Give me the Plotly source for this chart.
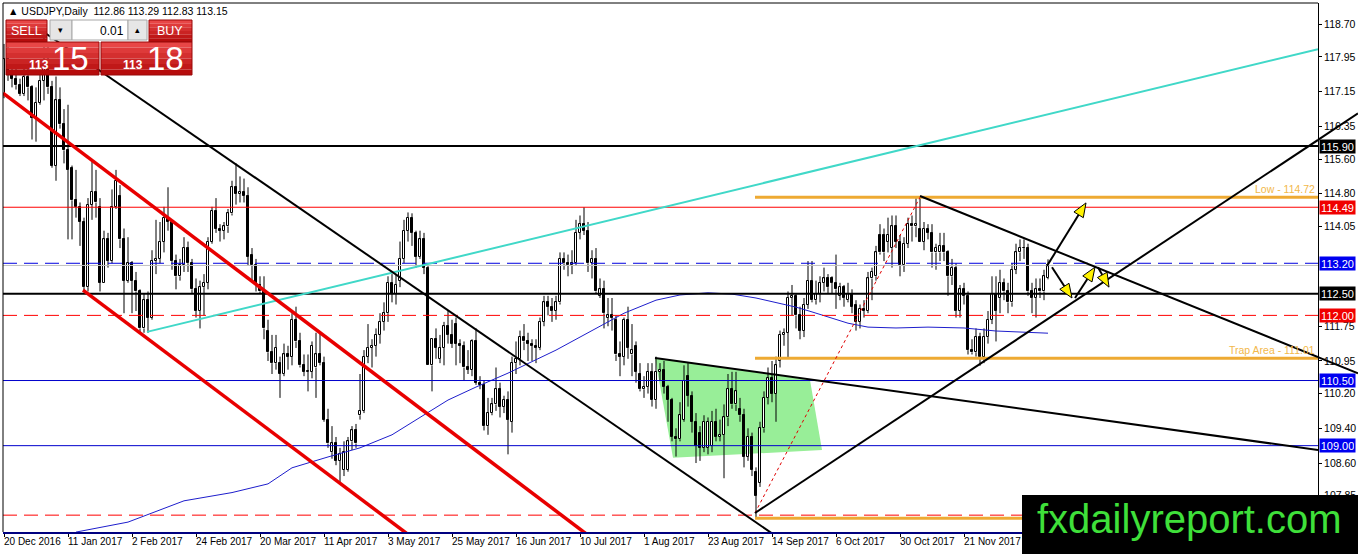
import math
import plotly.graph_objects as go

# USDJPY daily candles, bar 0 = 20 Dec 2016 ... bar 261 = 20 Dec 2017
open_ = [
    117.10, 117.90, 117.55, 117.45, 117.30, 117.10, 117.50, 117.25, 116.55,  # Dec 16
    116.90, 117.40, 117.75, 117.25, 115.45, 116.95, 116.40, 115.80, 115.40, 114.65, 114.50,
    114.15, 112.65, 114.55, 114.85, 114.50, 112.75, 113.75, 113.25, 114.50, 114.75, 113.75,  # Jan
    112.80, 113.20, 112.80, 112.55, 111.70, 112.35, 111.95, 113.25, 113.30, 113.70,
    114.25, 114.15, 113.25, 112.90, 113.15, 113.55, 113.20, 112.60, 112.10, 112.65,  # Feb
    112.75, 113.70, 114.40, 114.00, 113.95, 114.05, 114.35, 114.95, 114.80, 114.85, 114.75, 113.40,
    113.15, 112.70, 112.55, 111.65, 111.15, 110.90, 110.90, 110.65, 111.10, 111.05, 111.90,  # Mar
    111.40, 110.85, 110.70, 110.70, 110.80, 111.10, 110.90, 109.60, 108.85, 109.05,
    108.65, 108.45, 108.45, 109.10, 109.35, 109.70, 109.80, 111.05, 111.25, 111.30,  # Apr
    111.55, 111.85, 112.05, 112.75, 112.50, 112.80, 113.30, 113.95, 114.25, 113.90, 113.35, 113.75,
    113.10, 110.85, 111.45, 111.00, 111.25, 111.75, 111.55, 111.80, 111.35, 111.30, 110.80,  # May
    110.75, 111.40, 110.45, 110.40, 109.45, 109.75, 109.95, 110.30, 109.90, 110.05, 109.55,
    110.90, 111.00, 111.50, 111.40, 111.35, 111.30, 111.25, 111.85, 112.30, 112.20, 112.10,  # Jun
    112.30, 113.30, 113.20, 113.15, 113.20, 113.90, 114.10, 113.95, 113.20, 113.30, 112.45,
    112.60, 111.95, 112.00, 111.90, 111.10, 111.05, 111.90, 111.10, 111.30, 110.65,  # Jul
    110.30, 110.35, 110.70, 110.05, 110.70, 110.75, 110.35, 110.05, 109.20, 109.15, 109.60, 110.60,
    110.15, 109.55, 109.30, 108.95, 108.95, 109.00, 109.55, 109.20, 109.25, 109.65, 110.30,  # Aug
    109.95, 109.85, 109.70, 108.75, 109.20, 108.40, 108.15, 109.40, 110.10, 110.55, 110.20,
    110.95, 111.55, 111.60, 112.40, 112.45, 112.00, 111.65, 112.25, 112.80, 112.35,  # Sep
    112.50, 112.75, 112.85, 112.85, 112.75, 112.45, 112.65, 112.35, 112.50, 112.25, 111.85,
    112.15, 112.10, 112.85, 112.90, 113.85, 113.85, 113.70, 113.55, 114.05, 113.70, 113.15,  # Oct
    113.65, 114.10, 114.05, 114.00, 113.70, 114.00, 113.90, 113.45, 113.45, 113.60, 113.45,
    112.90, 113.10, 112.10, 112.60, 112.45, 111.20, 111.15, 111.50, 111.05, 111.50, 111.90,  # Nov
    112.50, 112.40, 112.75, 112.55, 112.30, 113.05, 113.45, 113.55, 113.55, 112.55, 112.40,
    112.60, 112.55, 112.86,  # Dec
]
high = [
    118.25, 118.20, 117.80, 117.75, 117.45, 117.85, 117.85, 117.30, 117.25,
    117.55, 118.60, 118.20, 117.40, 117.50, 117.25, 116.75, 116.85, 115.45, 115.35, 114.60,
    114.25, 114.70, 115.60, 115.35, 114.70, 113.95, 113.90, 114.90, 115.35, 115.00, 114.00,
    113.80, 113.25, 113.00, 112.60, 112.50, 112.55, 113.50, 114.20, 114.15, 114.50,
    114.95, 114.20, 113.40, 113.30, 113.80, 113.70, 113.30, 112.85, 112.80, 112.95,
    113.80, 114.50, 114.70, 114.10, 114.15, 114.45, 115.10, 115.50, 115.20, 115.15, 114.95, 113.55,
    113.30, 112.90, 112.90, 111.90, 111.55, 111.55, 111.05, 111.35, 111.30, 112.05, 112.20,
    111.60, 111.10, 111.10, 111.40, 111.60, 111.60, 111.05, 109.85, 109.45, 109.20,
    108.95, 109.10, 109.20, 109.45, 109.50, 110.65, 111.20, 111.80, 111.45, 111.70,
    112.05, 112.30, 112.90, 112.95, 112.95, 113.70, 114.20, 114.37, 114.35, 113.95, 113.95, 113.90,
    113.15, 111.45, 111.70, 111.55, 111.85, 112.10, 111.90, 111.95, 111.45, 111.40, 111.20,
    111.45, 111.70, 110.60, 110.50, 110.10, 110.10, 110.80, 110.45, 110.15, 110.25, 111.05,
    111.40, 111.65, 111.80, 111.60, 111.45, 111.45, 111.95, 112.45, 112.45, 112.40, 112.45,
    113.45, 113.45, 113.40, 113.50, 114.20, 114.30, 114.49, 114.15, 113.50, 113.55, 112.85,
    112.80, 112.40, 112.40, 112.00, 111.40, 111.95, 112.20, 111.80, 111.40, 110.90,
    110.60, 110.90, 110.90, 111.05, 110.90, 110.95, 110.40, 110.10, 109.40, 110.00, 110.85, 110.90,
    110.25, 109.75, 109.45, 109.70, 109.65, 109.80, 109.85, 109.60, 109.95, 110.65, 110.70,
    110.70, 110.10, 109.85, 109.40, 109.30, 108.50, 109.55, 110.25, 110.80, 110.95, 111.05,
    111.65, 111.70, 112.55, 112.70, 112.50, 112.20, 112.40, 113.25, 113.25, 112.80,
    112.90, 113.10, 112.95, 112.90, 113.40, 112.75, 112.70, 112.75, 112.60, 112.35, 112.25,
    112.35, 113.00, 113.10, 113.60, 114.10, 114.00, 114.25, 114.30, 114.30, 113.85, 113.80,
    114.25, 114.30, 114.70, 114.73, 114.15, 114.10, 114.10, 113.65, 113.90, 113.90, 113.50,
    113.30, 113.20, 112.70, 112.75, 112.55, 111.45, 111.70, 111.60, 111.70, 112.10, 112.90,
    112.90, 113.05, 112.85, 112.75, 113.20, 113.65, 113.75, 113.75, 113.65, 112.75, 112.85,
    112.85, 113.05, 113.29,
]
low = [
    117.00, 117.40, 117.25, 117.20, 117.05, 117.05, 116.95, 116.05, 116.00,
    116.85, 116.95, 117.10, 115.40, 115.10, 116.30, 115.50, 113.75, 113.75, 114.25, 113.60,
    112.55, 112.55, 114.20, 114.25, 112.55, 112.75, 113.10, 113.20, 114.45, 113.55, 112.05,
    112.75, 112.05, 112.10, 111.60, 111.60, 111.60, 111.90, 112.95, 113.20, 113.45,
    113.95, 113.05, 112.60, 112.80, 113.00, 113.00, 112.50, 111.95, 111.70, 112.00,
    112.60, 113.65, 113.90, 113.70, 113.75, 113.90, 114.30, 114.55, 114.60, 114.60, 113.15, 112.80,
    112.55, 112.50, 111.45, 110.95, 110.65, 110.75, 110.10, 110.60, 110.75, 110.85, 111.25,
    110.80, 110.60, 110.25, 110.55, 110.10, 110.85, 109.55, 108.95, 108.70, 108.55,
    108.13, 108.30, 108.40, 108.90, 108.95, 109.60, 109.75, 110.90, 110.80, 111.05,
    111.35, 111.65, 111.85, 112.30, 112.25, 112.65, 113.20, 113.70, 113.60, 113.10, 113.30, 112.95,
    110.85, 110.25, 111.00, 110.90, 110.85, 111.35, 111.25, 110.85, 110.90, 110.50, 110.65,
    110.60, 110.40, 110.30, 109.35, 109.25, 109.70, 109.80, 109.65, 109.75, 108.80, 109.30,
    110.65, 110.85, 111.20, 110.95, 110.95, 110.90, 111.20, 111.75, 112.00, 111.85, 111.90,
    112.25, 113.05, 112.90, 112.95, 113.15, 113.75, 113.85, 113.00, 112.85, 112.50, 112.40,
    111.70, 111.75, 111.65, 110.95, 110.60, 110.85, 111.00, 110.60, 110.45, 110.25,
    110.10, 110.20, 109.90, 109.85, 110.50, 110.20, 109.55, 109.10, 108.75, 109.10, 109.55, 109.90,
    109.30, 108.60, 108.65, 108.85, 108.80, 108.85, 109.10, 109.10, 108.25, 109.45, 109.85,
    109.80, 109.55, 108.50, 108.65, 108.30, 107.32, 108.05, 109.30, 109.95, 110.00, 109.55,
    110.80, 111.30, 111.00, 112.00, 111.70, 111.45, 111.50, 112.15, 112.30, 112.25,
    112.30, 112.55, 112.50, 112.50, 112.15, 112.35, 112.20, 112.30, 112.05, 111.65, 111.70,
    111.95, 112.05, 112.35, 112.80, 113.40, 113.25, 113.45, 113.10, 113.55, 112.90, 113.00,
    113.55, 113.70, 113.80, 113.70, 113.50, 113.75, 113.10, 113.05, 113.25, 113.25, 112.45,
    112.70, 111.95, 111.95, 112.25, 111.10, 111.10, 111.05, 110.84, 110.90, 111.35, 111.80,
    111.40, 112.05, 112.35, 112.05, 112.20, 112.95, 113.25, 113.30, 112.45, 112.05, 111.95,
    112.40, 112.35, 112.83,
]
close = [
    117.90, 117.55, 117.45, 117.30, 117.10, 117.50, 117.25, 116.55, 116.90,
    117.40, 117.75, 117.25, 115.45, 116.95, 116.40, 115.80, 115.35, 114.65, 114.50, 114.15,
    112.65, 114.55, 114.85, 114.60, 112.75, 113.75, 113.25, 114.50, 115.10, 113.75, 112.80,
    113.20, 112.80, 112.55, 111.70, 112.35, 111.95, 113.25, 113.30, 113.70, 114.25,
    114.15, 113.25, 112.90, 113.15, 113.55, 113.20, 112.60, 112.10, 112.65, 112.75,
    113.70, 114.40, 114.00, 113.95, 114.05, 114.35, 114.95, 114.80, 114.85, 114.75, 113.35, 113.15,
    112.70, 112.55, 111.70, 111.15, 110.90, 111.25, 110.65, 111.10, 111.05, 111.90, 111.40,
    110.85, 110.70, 110.72, 111.30, 111.10, 110.90, 109.60, 109.05, 109.05, 108.65,
    108.80, 108.85, 109.10, 109.35, 109.05, 109.80, 111.05, 111.25, 111.30, 111.55,
    111.85, 112.05, 112.75, 112.50, 112.70, 113.30, 113.95, 114.25, 113.90, 113.35, 113.75, 113.10,
    110.85, 111.45, 111.25, 111.25, 111.75, 111.55, 111.35, 111.35, 111.30, 110.80, 110.75,
    111.40, 110.45, 110.40, 109.45, 109.75, 109.95, 110.30, 109.90, 110.05, 109.60, 110.90,
    111.00, 111.50, 111.40, 111.35, 111.30, 111.25, 111.85, 112.30, 112.20, 112.10, 112.30,
    113.30, 113.20, 113.15, 113.20, 113.90, 114.10, 113.95, 113.20, 113.30, 112.55, 112.60,
    112.05, 112.00, 111.95, 111.10, 111.05, 111.90, 111.25, 111.20, 110.70, 110.30,
    110.35, 110.70, 110.05, 110.70, 110.75, 110.35, 110.05, 109.20, 109.15, 109.70, 110.50, 110.15,
    109.55, 109.00, 108.95, 109.55, 109.55, 109.55, 109.20, 109.25, 109.65, 110.30, 109.95,
    110.25, 109.70, 108.75, 109.20, 108.45, 107.85, 109.40, 110.10, 110.55, 110.20, 110.85,
    111.55, 111.60, 112.40, 112.45, 112.00, 111.65, 112.25, 112.80, 112.35, 112.50,
    112.75, 112.85, 112.65, 112.75, 112.60, 112.65, 112.40, 112.50, 112.20, 111.85, 112.15,
    112.10, 112.85, 113.00, 113.45, 113.45, 113.45, 113.85, 114.05, 113.70, 113.15, 113.65,
    114.10, 114.05, 114.10, 113.70, 114.00, 113.90, 113.45, 113.55, 113.60, 113.45, 112.90,
    113.10, 112.10, 112.60, 112.45, 111.20, 111.15, 111.50, 111.05, 111.50, 111.90, 112.50,
    112.10, 112.75, 112.55, 112.30, 113.05, 113.45, 113.55, 113.55, 112.55, 112.40, 112.60,
    112.55, 112.90, 113.15,
]

# date scale (MT4 puts a label every 16 bars)
date_labels = ["20 Dec 2016", "11 Jan 2017", "2 Feb 2017", "24 Feb 2017", "20 Mar 2017",
               "11 Apr 2017", "3 May 2017", "25 May 2017", "16 Jun 2017", "10 Jul 2017",
               "1 Aug 2017", "23 Aug 2017", "14 Sep 2017", "6 Oct 2017", "30 Oct 2017",
               "21 Nov 2017"]
date_step = 16
# visible price scale labels (the ones under the 113.20 / 112.50 boxes are hidden)
price_ticks = [118.70, 117.95, 117.15, 116.35, 115.60, 114.80, 114.05,
               111.75, 110.95, 110.20, 109.40, 108.60, 107.85]

# moving average
ma_bar = [18, 31, 45, 57, 66, 72, 81, 89, 97, 104, 111, 118, 126, 138, 147, 155, 163,
          169, 176, 182, 188, 198, 202, 211, 216, 223, 231, 240, 248, 261]
ma_val = [107.01, 107.24, 107.73, 107.92, 108.12, 108.49, 108.74, 108.95, 109.25, 109.66,
          110.05, 110.35, 110.67, 111.20, 111.66, 112.05, 112.35, 112.47, 112.52, 112.49,
          112.40, 112.19, 112.08, 111.82, 111.73, 111.71, 111.73, 111.71, 111.64, 111.59]

# horizontal levels
levels = [115.90, 114.49, 113.20, 112.50, 112.00, 110.50, 109.00, 107.40]
level_boxed = [True, True, True, True, True, True, True, False]

# zones drawn from the September low
zone_start = 187.75
zone_prices = [114.72, 111.01, 107.33]
zone_texts = ["Low - 114.72", "Trap Area - 111.01", ""]

# trend lines (bar0, price0, bar1, price1)
cyan_line = (35.75, 111.62, 328.5, 118.13)
channel_black = (10, 118.52, 192, 106.98)
red_upper = (-0.25, 117.12, 150, 106.66)
red_lower = (19.75, 112.58, 105, 106.68)
support_line = (187.75, 107.45, 328.5, 116.04)
resist_line = (229, 114.75, 328.5, 111.04)
triangle_top = (162.75, 111.02, 328.5, 108.90)
dotted_red = (187.75, 107.45, 229, 114.72)

green_bar = [162.75, 201.5, 204.5, 167.25]
green_price = [111.02, 110.51, 108.90, 108.72]

arrows = [
    (260.75, 113.14, 270.5, 114.59),
    (262, 113.11, 267, 112.40),
    (267.75, 112.40, 272.75, 113.11),
    (273.5, 113.11, 276.25, 112.65),
]

# ---- frame
W, H = 1358, 554
ML, MR, MT, MB = 3, 40, 3, 22
PW, PH = W - ML - MR, H - MT - MB
X0, X1 = -0.25, 328.5
Y0, Y1 = 107.012, 119.193
kx = PW / (X1 - X0)
ky = PH / (Y1 - Y0)
FONT = "Liberation Sans, Arial, sans-serif"


def pxx(px):
    return (px - ML) / PW


def pxy(py):
    return (H - MB - py) / PH


fig = go.Figure()


def seg(line, color, width, dash="solid"):
    fig.add_trace(go.Scatter(x=[line[0], line[2]], y=[line[1], line[3]], mode="lines",
                             line=dict(color=color, width=width, dash=dash), hoverinfo="skip"))


shapes = []
annotations = []

# green zone sits under the candles
path = "M " + " L ".join(f"{b},{p}" for b, p in zip(green_bar, green_price)) + " Z"
shapes.append(dict(type="path", xref="x", yref="y", path=path, fillcolor="#98EE98",
                   line=dict(width=0), layer="below"))

# candles: wicks outside the body, then bodies (white = up, black = down)
bars = list(range(len(close)))
wx, wy = [], []
for i in bars:
    top, bot = max(open_[i], close[i]), min(open_[i], close[i])
    wx += [i, i, None, i, i, None]
    wy += [high[i], top, None, bot, low[i], None]
fig.add_trace(go.Scatter(x=wx, y=wy, mode="lines", line=dict(color="black", width=1),
                         hoverinfo="skip"))
fig.add_trace(go.Bar(
    x=bars, base=[min(o, c) for o, c in zip(open_, close)],
    y=[max(abs(c - o), 0.012) for o, c in zip(open_, close)],
    width=0.55, marker=dict(color=["white" if c >= o else "black" for o, c in zip(open_, close)],
                            line=dict(color="black", width=1)),
    hoverinfo="skip"))

fig.add_trace(go.Scatter(x=ma_bar, y=ma_val, mode="lines",
                         line=dict(color="#1E1ECC", width=1), hoverinfo="skip"))

# bid line
fig.add_trace(go.Scatter(x=[X0, X1], y=[close[-1]] * 2, mode="lines",
                         line=dict(color="#C0C0C0", width=1), hoverinfo="skip"))

level_style = {
    115.90: ("#000000", 2, "solid"), 114.49: ("#FF0000", 1, "solid"),
    113.20: ("#0000E0", 1, "14px,7px"), 112.50: ("#000000", 2, "solid"),
    112.00: ("#FF0000", 1, "14px,7px"), 110.50: ("#0000CC", 1, "solid"),
    109.00: ("#0000CC", 1, "solid"), 107.40: ("#FF0000", 1, "14px,7px"),
}
for lv in levels:
    c, w, d = level_style[lv]
    seg((X0, lv, X1, lv), c, w, d)

for zp in zone_prices:
    seg((zone_start, zp, X1, zp), "#EEAA33", 3)

seg(dotted_red, "#E00000", 1, "dot")
seg(cyan_line, "#40D8C8", 2)
seg(channel_black, "#000000", 2)
seg(red_upper, "#E80000", 3.5)
seg(red_lower, "#E80000", 3.5)
seg(triangle_top, "#000000", 2)
seg(support_line, "#000000", 2)
seg(resist_line, "#000000", 2)

# arrows: black shaft + yellow head outlined in black
HL, HW = 14, 11
for a in arrows:
    dx = (a[2] - a[0]) * kx
    dy = (a[3] - a[1]) * ky
    n = math.hypot(dx, dy)
    ux, uy = dx / n, dy / n
    bx, by = -HL * ux, -HL * uy
    pts = [(0, 0), (bx - HW / 2 * uy, by + HW / 2 * ux), (bx + HW / 2 * uy, by - HW / 2 * ux), (0, 0)]
    seg((a[0], a[1], a[2] + bx / kx, a[3] + by / ky), "#000000", 2)
    fig.add_trace(go.Scatter(x=[a[2] + p[0] / kx for p in pts], y=[a[3] + p[1] / ky for p in pts],
                             fill="toself", fillcolor="#FFF200", mode="lines",
                             line=dict(color="#000000", width=1), hoverinfo="skip"))

# the two black lines run on through the price scale
for ln in (support_line, resist_line):
    slope = (ln[3] - ln[1]) / (ln[2] - ln[0])
    xe = X0 + (W - ML) / kx
    ya = ln[1] + slope * (X1 - ln[0])
    ye = ln[1] + slope * (xe - ln[0])
    shapes.append(dict(type="line", xref="paper", yref="paper", x0=1, x1=(xe - X0) / (X1 - X0),
                       y0=(ya - Y0) / (Y1 - Y0), y1=(ye - Y0) / (Y1 - Y0),
                       line=dict(color="black", width=2), layer="above"))

# frame borders
shapes.append(dict(type="line", xref="paper", yref="paper", x0=0, x1=1, y0=1, y1=1,
                   line=dict(color="black", width=1), layer="above"))
shapes.append(dict(type="line", xref="paper", yref="paper", x0=0, x1=0, y0=0, y1=1,
                   line=dict(color="black", width=1), layer="above"))

# price boxes on the scale
box_color = {115.90: "#000000", 114.49: "#F00000", 113.20: "#0000F0", 112.50: "#000000",
             112.00: "#F00000", 110.50: "#0000F0", 109.00: "#0000F0"}
for lv, boxed in zip(levels, level_boxed):
    if boxed:
        annotations.append(dict(xref="paper", x=1, xanchor="left", xshift=1, yref="y", y=lv,
                                text=f"{lv:.2f}", showarrow=False, bgcolor=box_color[lv],
                                font=dict(color="white", size=11, family=FONT),
                                width=33, height=11, borderpad=1))

for zp, zt in zip(zone_prices, zone_texts):
    if zt:
        annotations.append(dict(xref="paper", x=1, xanchor="right", xshift=-1, yref="y", y=zp,
                                yanchor="bottom", yshift=0, text=zt, showarrow=False,
                                font=dict(color="#F2B84A", size=10.5, family=FONT)))

for i, t in enumerate(date_labels):
    annotations.append(dict(x=i * date_step, xref="x", xanchor="left", xshift=-2,
                            y=0, yref="paper", yanchor="top", yshift=-2, text=t,
                            showarrow=False, font=dict(size=10, color="black", family=FONT)))

# header text
annotations.append(dict(xref="paper", x=pxx(6), xanchor="left", yref="paper", y=pxy(11),
                        yanchor="middle", showarrow=False,
                        text=f"\u25b2 USDJPY,Daily  {open_[-1]:.2f} {high[-1]:.2f} {low[-1]:.2f} {close[-1]:.2f}",
                        font=dict(size=10.5, color="black", family=FONT)))


# one-click trading panel
def red_box(x0, y0, x1, y1):
    n = 6
    top, bot = (232, 70, 70), (182, 12, 12)
    for k in range(n):
        t = k / (n - 1)
        col = tuple(round(top[j] + (bot[j] - top[j]) * t) for j in range(3))
        ya = y0 + (y1 - y0) * k / n
        yb = y0 + (y1 - y0) * (k + 1) / n
        shapes.append(dict(type="rect", xref="paper", yref="paper", x0=pxx(x0), x1=pxx(x1),
                           y0=pxy(yb), y1=pxy(ya), fillcolor="rgb(%d,%d,%d)" % col,
                           line=dict(width=0), layer="above"))
    shapes.append(dict(type="rect", xref="paper", yref="paper", x0=pxx(x0), x1=pxx(x1),
                       y0=pxy(y1), y1=pxy(y0), line=dict(color="#9A0808", width=1), layer="above"))


def grey_box(x0, y0, x1, y1, fill):
    shapes.append(dict(type="rect", xref="paper", yref="paper", x0=pxx(x0), x1=pxx(x1),
                       y0=pxy(y1), y1=pxy(y0), fillcolor=fill,
                       line=dict(color="#A8A8A8", width=1), layer="above"))


def txt(x, y, s, size, color="white", anchor="center", bold=False):
    annotations.append(dict(xref="paper", x=pxx(x), xanchor=anchor, yref="paper", y=pxy(y),
                            yanchor="middle", showarrow=False,
                            text=f"<b>{s}</b>" if bold else s,
                            font=dict(size=size, color=color, family=FONT)))


red_box(6, 20, 47, 42)
red_box(149, 20, 192, 42)
red_box(6, 42, 99, 75)
red_box(101, 42, 192, 75)
grey_box(50, 20, 72, 40, "#E6E6E6")
grey_box(72, 20, 128, 40, "#FFFFFF")
grey_box(128, 20, 147, 40, "#E6E6E6")
txt(26.5, 31, "SELL", 12.5)
txt(170, 31, "BUY", 12.5)
txt(61, 30, "\u25be", 9, "black")
txt(137.5, 30, "\u25b4", 9, "black")
txt(126, 30.5, "0.01", 12, "black", "right")
txt(38.5, 65, "113", 12, bold=True)
txt(70, 58, "15", 33)
txt(133, 65, "113", 12, bold=True)
txt(165, 58, "18", 33)

# watermark
shapes.append(dict(type="rect", xref="paper", yref="paper", x0=pxx(1022), x1=pxx(W + 5),
                   y0=pxy(H + 5), y1=pxy(495), fillcolor="black", line=dict(width=0),
                   layer="above"))
annotations.append(dict(xref="paper", x=pxx(1189), xanchor="center", yref="paper", y=pxy(519),
                        yanchor="middle", showarrow=False, text="fxdailyreport.com",
                        font=dict(size=40, color="#3FE03A", family=FONT)))

fig.update_layout(
    width=W, height=H, margin=dict(l=ML, r=MR, t=MT, b=MB),
    paper_bgcolor="white", plot_bgcolor="white", showlegend=False,
    shapes=shapes, annotations=annotations, bargap=0,
    xaxis=dict(range=[X0, X1], showgrid=False, zeroline=False,
               tickvals=[i * date_step for i in range(len(date_labels))],
               showticklabels=False, ticks="outside", ticklen=3, tickcolor="black",
               showline=True, linecolor="#000080", linewidth=2, fixedrange=True),
    yaxis=dict(range=[Y0, Y1], side="right", showgrid=False, zeroline=False,
               tickvals=price_ticks, ticktext=[f"{v:.2f}" for v in price_ticks],
               ticks="outside", ticklen=3, tickcolor="black",
               tickfont=dict(size=10.5, color="black", family=FONT),
               showline=True, linecolor="black", linewidth=1, fixedrange=True),
)

# the page has a default 8px body margin; drop it so the chart sits flush like the screenshot
fig.write_html("out.html", config={"displayModeBar": False},
               post_script="document.body.style.margin='0';document.body.style.overflow='hidden';")
